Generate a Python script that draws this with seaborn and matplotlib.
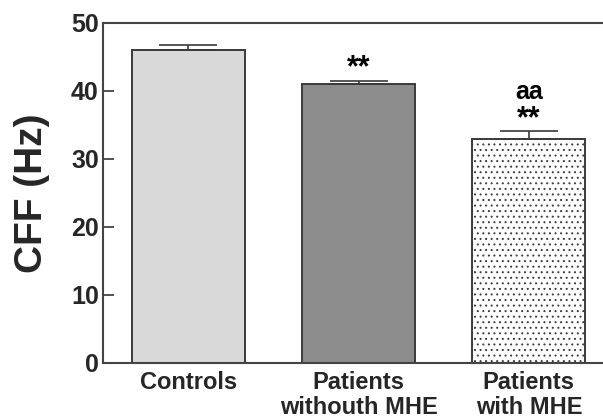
import matplotlib
matplotlib.use("Agg")
import matplotlib.pyplot as plt
import seaborn as sns
import pandas as pd
import numpy as np

groups = ["Controls", "Patients\nwithouth MHE", "Patients\nwith MHE"]
cff_mean = [46.0, 41.0, 33.0]
cff_sem = [0.7, 0.5, 1.1]
bar_colors = ["#d9d9d9", "#8c8c8c", "#ffffff"]
y_ticks = [0, 10, 20, 30, 40, 50]
vs_controls = ["", "**", "**"]
vs_no_mhe = ["", "", "aa"]

sns.set_style("white")
plt.rcParams["font.family"] = ["Liberation Sans", "DejaVu Sans"]
plt.rcParams["font.weight"] = "bold"
plt.rcParams["hatch.color"] = "#444444"
plt.rcParams["hatch.linewidth"] = 0.7

df = pd.DataFrame({"group": groups, "cff": cff_mean})

fig = plt.figure(figsize=(6.03, 4.20), dpi=100)
ax = fig.add_axes([103 / 603, 1 - 363 / 420, (614 - 103) / 603, (363 - 23) / 420])

sns.barplot(data=df, x="group", y="cff", hue="group", palette=bar_colors,
            legend=False, width=0.665, edgecolor="#3a3a3a", linewidth=1.4,
            errorbar=None, ax=ax)
ax.patches[2].set_hatch("...")

xs = np.arange(len(groups))
tops = np.array(cff_mean) + np.array(cff_sem)
ax.errorbar(xs, cff_mean, yerr=[np.zeros(len(groups)), cff_sem], fmt="none",
            ecolor="#3a3a3a", elinewidth=1.2, capsize=21, capthick=1.2, zorder=3)

# significance marks above the error bars
for x, top, t in zip(xs, tops, vs_controls):
    if t:
        ax.annotate(t, (x, top), xytext=(0, 3), textcoords="offset points",
                    ha="center", va="baseline", fontsize=22, fontweight="bold",
                    color="black")
for x, top, t in zip(xs, tops, vs_no_mhe):
    if t:
        ax.annotate(t, (x, top), xytext=(0, 23), textcoords="offset points",
                    ha="center", va="baseline", fontsize=18, fontweight="bold",
                    color="black")

ax.set_xlim(-0.5, 2.5)
ax.set_ylim(0, 50)
ax.set_yticks(y_ticks)
ax.set_yticklabels([str(v) for v in y_ticks], fontsize=18, fontweight="bold")
ax.set_xticks(xs)
ax.set_xticklabels(groups, fontsize=17, fontweight="bold", linespacing=1.07)
ax.tick_params(axis="y", direction="in", length=8, width=1.3, color="#444444", pad=3, left=True)
ax.tick_params(axis="x", length=0, pad=6)
ax.set_xlabel("")
ax.set_ylabel("CFF (Hz)", fontsize=28, fontweight="bold", labelpad=15)

for side in ["left", "bottom", "top", "right"]:
    ax.spines[side].set_visible(True)
    ax.spines[side].set_color("#444444")
    ax.spines[side].set_linewidth(1.5)

fig.savefig("out.png", dpi=100, facecolor="white")
